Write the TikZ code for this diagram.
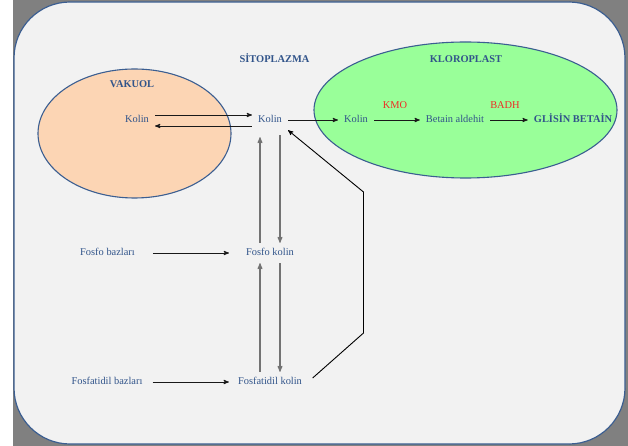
\documentclass[tikz,border=0pt]{standalone}
\usepackage{fontspec}
\setmainfont{Liberation Serif}
\usetikzlibrary{
  arrows,
  chains,
  positioning,
  scopes
}
\definecolor{cellline}{HTML}{3B5E91}
\definecolor{labelblue}{HTML}{31548A}
\definecolor{cytofill}{HTML}{F2F2F2}
\definecolor{vacfill}{HTML}{FCD5B4}
\definecolor{chlfill}{HTML}{99FF99}
\definecolor{enzred}{HTML}{EE2B24}

\begin{document}
\begin{tikzpicture}[x=1pt,y=-1pt,
      compound/.style={
         inner xsep=6pt,
         inner ysep=6pt,
         text=labelblue,
         font=\fontsize{10.4}{12}\selectfont,
         text height=1.5ex,
         text depth=.25ex
      },
      title/.style={
         compound,
         font=\fontsize{10.4}{12}\selectfont\bfseries
      },
      enzyme/.style={
         compound,
         text=enzred
      },
      organelle/.style={draw=cellline, line width=1.1pt},
      >=stealth',
      tip/.style={->, draw=black!90, line width=0.9pt},
      feed/.style={->, draw=black!55, line width=1.1pt},
    ]
    \useasboundingbox (0,0) rectangle (628,446);
    \fill[black!50] (13,0) rectangle (628,446);
    \filldraw[fill=cytofill, draw=cellline, line width=1.2pt, rounded corners=56pt]
       (14,2) rectangle (625,444);
    % organelles
    \draw[organelle, fill=vacfill] (134.5,133.5) ellipse [x radius=96.5pt, y radius=64.5pt];
    \draw[organelle, fill=chlfill] (465.5,110) ellipse [x radius=151.5pt, y radius=68pt];
    % titles
    \node (sito) [title] at (274.5,60) {SİTOPLAZMA};
    \node (vak)  [title] at (132,85)   {VAKUOL};
    \node (klor) [title] at (466,60)   {KLOROPLAST};
    % compounds
    \node (kv)   [compound] at (137,120) {Kolin};
    \node (kc)   [compound] at (270,120) {Kolin};
    \node (kk)   [compound] at (356,120) {Kolin};
    \node (ba)   [compound] at (455,120) {Betain aldehit};
    \node (gb)   [title]    at (573,120) {GLİSİN BETAİN};
    \node (kmo)  [enzyme]   at (395,106) {KMO};
    \node (badh) [enzyme]   at (505,106) {BADH};
    \node (fb)   [compound] at (107.5,253) {Fosfo bazları};
    \node (fk)   [compound] at (270,253)   {Fosfo kolin};
    \node (fdb)  [compound] at (107,382)   {Fosfatidil bazları};
    \node (fdk)  [compound] at (270,382)   {Fosfatidil kolin};
    \coordinate (b1) at (363.5,333);
    \coordinate (b2) at (363.5,192);
    % vakuol <-> sitoplazma
    \draw[tip] ([yshift=5pt]kv.east) -- ([yshift=5pt]kc.west);
    \draw[tip] ([yshift=-6pt]kc.west) -- ([yshift=-6pt]kv.east);
    % kloroplast
    { [start chain]
         \chainin (kc);
         \chainin (kk)    [join=by tip];
         \chainin (ba)    [join=by tip];
         \chainin (gb)    [join=by tip];
    }
    % fosfo
    \draw[feed, shorten >=7pt] ([xshift=-10pt]fk.north) -- ([xshift=-10pt]kc.south);
    \draw[feed, shorten <=5pt] ([xshift=10pt]kc.south) -- ([xshift=10pt]fk.north);
    \draw[feed] ([xshift=-10pt]fdk.north) -- ([xshift=-10pt]fk.south);
    \draw[feed] ([xshift=10pt]fk.south) -- ([xshift=10pt]fdk.north);
    \draw[tip, shorten <=12pt, shorten >=11pt] (fb) -- (fk);
    \draw[tip, shorten <=4pt, shorten >=3pt] (fdb) -- (fdk);
    \draw[tip, draw=black, shorten <=6pt] (fdk.east) -- (b1) -- (b2) -- (kc.south east);
\end{tikzpicture}
\end{document}
